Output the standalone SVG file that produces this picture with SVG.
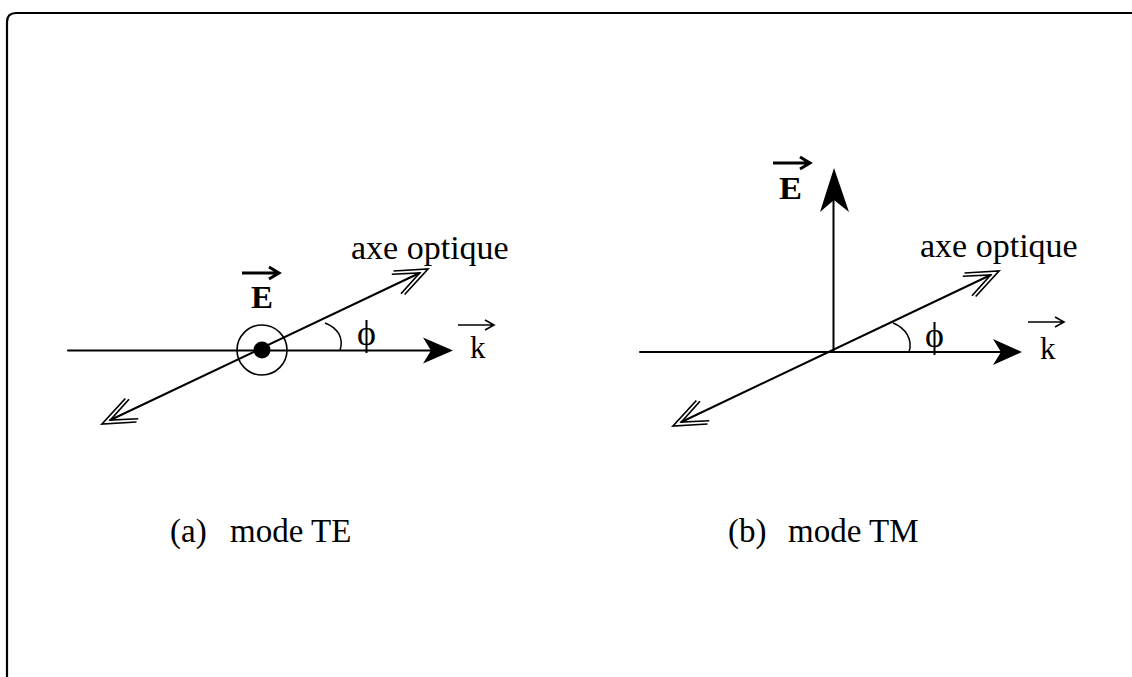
<svg xmlns="http://www.w3.org/2000/svg" width="1132" height="677" viewBox="0 0 1132 677">
<style>
.ln{fill:none;stroke:#000;stroke-width:2;stroke-linecap:round}
.thin{fill:none;stroke:#000;stroke-width:1.5}
.fill{fill:#000;stroke:none}
.t{font-family:"Liberation Serif","Times New Roman","DejaVu Serif",serif;fill:#000}
.lab{font-size:34px}
.cap{font-size:33px}
.k{font-size:31px}
.E{font-size:31px;font-weight:bold}
.phi{font-size:36px}
</style>
<defs>
<g id="dhead"><path d="M-32,-13 L0,0 L-32,13 M-35,-10.8 L-9.3,0 L-35,10.8" fill="none" stroke="#000" stroke-width="1.7" stroke-linejoin="miter"/></g>
<g id="vec"><path d="M0,0 H36 M27,-5 L36,0 L27,5" fill="none" stroke="#000" stroke-width="1.6"/></g>
<g id="vecb"><path d="M0,0 H37 M27,-6 L37,0 L27,6" fill="none" stroke="#000" stroke-width="3"/></g>
</defs>
<rect width="1132" height="677" fill="#fff"/>
<path id="frame" d="M7,677 L7,22 Q7,13 16,13 L1132,13" fill="none" stroke="#000" stroke-width="2.2"/>

<g id="connectors">
<!-- panel a -->
<path class="ln" d="M68,350.5 H431"/>
<path class="fill" d="M453,350.5 L423,337.5 L431,350.5 L423,363.5 Z"/>
<path class="ln" d="M110.4,420 L419.6,273"/>
<use href="#dhead" transform="translate(428,269) rotate(-25.4)"/>
<use href="#dhead" transform="translate(102,424) rotate(154.6)"/>
<path class="thin" d="M325,323 C338,328 344,338 340,350.5"/>
<!-- panel b -->
<path class="ln" d="M640,352 H1001"/>
<path class="fill" d="M1022,352 L993,339 L1001,352 L993,365 Z"/>
<path class="ln" d="M833.5,352 V200"/>
<path class="fill" d="M834,168 L820,212 L834,200 L849,212 Z"/>
<path class="ln" d="M681.4,422 L990.6,275"/>
<use href="#dhead" transform="translate(999,271) rotate(-25.4)"/>
<use href="#dhead" transform="translate(673,426) rotate(154.6)"/>
<path class="thin" d="M893,323 C906,328 913,340 909,352"/>
</g>

<g id="panel-a">
<circle cx="262" cy="350" r="25" fill="none" stroke="#000" stroke-width="1.6"/>
<circle cx="262" cy="350" r="8.5" fill="#000"/>
<g id="a-E"><text class="t E" x="251" y="308" textLength="22" lengthAdjust="spacingAndGlyphs">E</text><use href="#vecb" x="242" y="273"/></g>
<g id="a-k"><text class="t k" x="470" y="358">k</text><use href="#vec" x="458" y="325"/></g>
<text class="t phi" x="357" y="345">ϕ</text>
<text class="t lab" x="351" y="259">axe optique</text>
<text class="t cap" x="170" y="542">(a)</text>
<text class="t cap" x="230" y="542">mode TE</text>
</g>

<g id="panel-b">
<g id="b-E"><text class="t E" x="779" y="199" textLength="23" lengthAdjust="spacingAndGlyphs">E</text><use href="#vecb" x="773" y="163"/></g>
<g id="b-k"><text class="t k" x="1040" y="359">k</text><use href="#vec" x="1028" y="322"/></g>
<text class="t phi" x="925" y="347">ϕ</text>
<text class="t lab" x="920" y="257">axe optique</text>
<text class="t cap" x="728" y="542">(b)</text>
<text class="t cap" x="788" y="542">mode TM</text>
</g>
</svg>
